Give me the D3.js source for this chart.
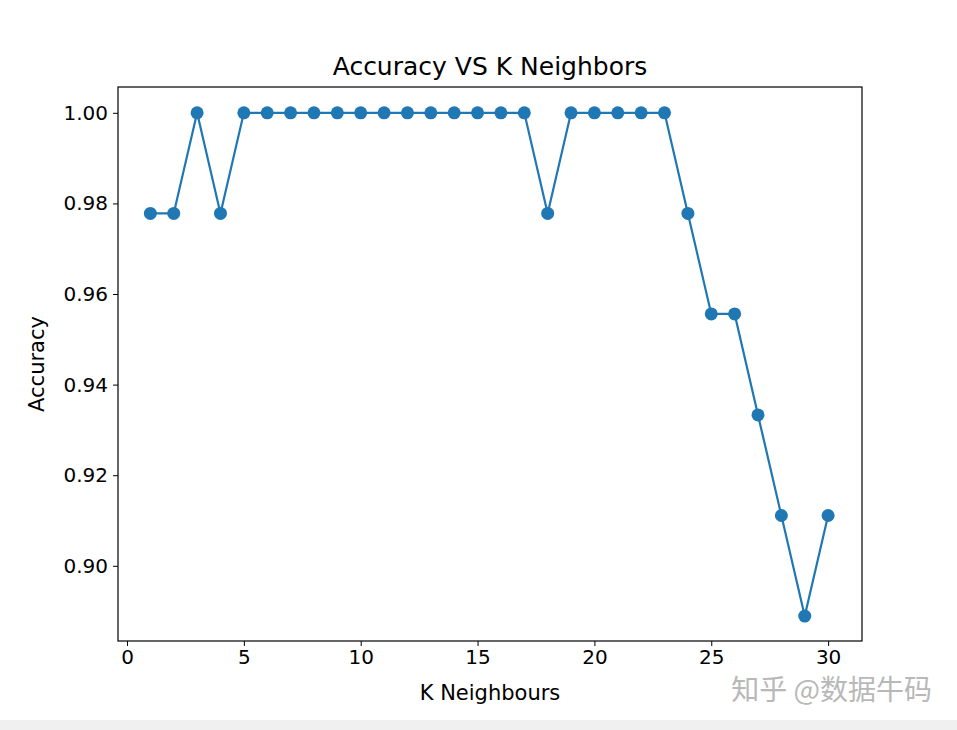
<!DOCTYPE html>
<html><head><meta charset="utf-8">
<script src="https://cdn.jsdelivr.net/npm/d3@7"></script>
<style>body{margin:0;background:#fff;font-family:"DejaVu Sans",sans-serif}</style>
</head><body><div id="graphic"></div>
<script>
const kValues = d3.range(1, 31)
const accuracy = [0.9778, 0.9778, 1, 0.9778, 1, 1, 1, 1, 1, 1, 1, 1, 1, 1, 1, 1, 1, 0.9778, 1, 1, 1, 1, 1,
    0.9778, 0.9556, 0.9556, 0.9333, 0.9111, 0.8889, 0.9111]
const xTicks = [0, 5, 10, 15, 20, 25, 30]
const yTicks = [0.90, 0.92, 0.94, 0.96, 0.98, 1.00]

const margin = {top: 87, right: 95, bottom: 89, left: 118}
const width = 957 - margin.left - margin.right
const height = 730 - margin.top - margin.bottom

let svg = d3.select("#graphic").append("svg")
    .attr("width", 957).attr("height", 730)

// grey strip at bottom
svg.append("rect").attr("x", 0).attr("y", 720).attr("width", 957).attr("height", 10).attr("fill", "#f0f0f0")

let g = svg.append("g").attr("transform", "translate(" + margin.left + "," + margin.top + ")")

let x = d3.scaleLinear().domain([-0.385, 31.45]).range([0, width])
let y = d3.scaleLinear().domain([0.8834, 1.0057]).range([height, 0])

g.append("g").attr("transform", "translate(0," + height + ")")
    .call(d3.axisBottom(x).tickValues(xTicks).tickSize(5).tickPadding(4).tickFormat(d3.format("d")))
    .call(a => a.select(".domain").remove())
g.append("g")
    .call(d3.axisLeft(y).tickValues(yTicks).tickSize(5).tickPadding(5).tickFormat(d3.format(".2f")))
    .call(a => a.select(".domain").remove())
g.selectAll(".tick text").attr("font-size", 20).attr("font-family", "DejaVu Sans").attr("fill", "#000")
g.selectAll(".tick line").attr("stroke", "#000")

g.append("path").datum(accuracy)
    .attr("fill", "none").attr("stroke", "#1f77b4").attr("stroke-width", 2.2)
    .attr("d", d3.line().x((d, i) => x(kValues[i])).y(d => y(d)))
g.selectAll("circle").data(accuracy).enter().append("circle")
    .attr("cx", (d, i) => x(kValues[i])).attr("cy", d => y(d)).attr("r", 6.5).attr("fill", "#1f77b4")

g.append("rect").attr("width", width).attr("height", height).attr("fill", "none").attr("stroke", "#000").attr("stroke-width", 1.2)

svg.append("text").attr("x", margin.left + width / 2).attr("y", 75).attr("text-anchor", "middle")
    .attr("font-size", 25).text("Accuracy VS K Neighbors")
svg.append("text").attr("x", margin.left + width / 2).attr("y", 700).attr("text-anchor", "middle")
    .attr("font-size", 21).text("K Neighbours")
svg.append("text").attr("transform", "translate(44," + (margin.top + height / 2) + ") rotate(-90)")
    .attr("text-anchor", "middle").attr("font-size", 21).text("Accuracy")
svg.append("text").attr("x", 932).attr("y", 700).attr("text-anchor", "end")
    .attr("font-family", "Noto Sans CJK SC").attr("font-size", 28).attr("fill", "#b8b8b8").text("知乎 @数据牛码")
</script></body></html>
